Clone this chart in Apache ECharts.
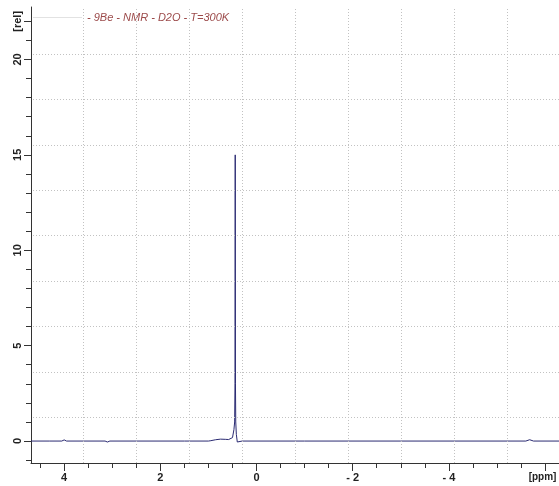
<!DOCTYPE html>
<html>
<head>
<meta charset="utf-8">
<script src="https://cdn.jsdelivr.net/npm/echarts@6/dist/echarts.min.js"></script>
<style>
html,body{margin:0;padding:0;background:#fff;}
#c{width:559px;height:486px;}
</style>
</head>
<body>
<div id="c"></div>
<script>
// ---- data ----
var seriesName = '- 9Be - NMR - D2O - T=300K';
var ppm = [4.69, 4.30, 4.05, 4.00, 3.95, 3.60, 3.15, 3.10, 3.05, 2.50, 1.50, 1.00, 0.95, 0.85, 0.75, 0.65, 0.58, 0.55, 0.50, 0.47, 0.455, 0.448, 0.443, 0.438, 0.432, 0.42, 0.40, 0.37, 0.30, -1.0, -3.0, -5.60, -5.68, -5.76, -6.29];
var intensity = [0, 0, 0, 0.06, 0, 0, 0, -0.05, 0, 0, 0, 0, 0.02, 0.07, 0.10, 0.09, 0.08, 0.08, 0.18, 0.6, 1.0, 3.0, 15.0, 3.0, 1.0, 0.35, -0.05, 0, 0, 0, 0, 0, 0.07, 0, 0];
var xMajorTicks = [4, 2, 0, -2, -4, -6];
var xMinorTicks = [4.5, 4, 3.5, 3, 2.5, 2, 1.5, 1, 0.5, 0, -0.5, -1, -1.5, -2, -2.5, -3, -3.5, -4, -4.5, -5, -5.5, -6];
var yMajorTicks = [0, 5, 10, 15, 20, 22];
var yMinorTicks = [-1, 0, 1, 2, 3, 4, 5, 6, 7, 8, 9, 10, 11, 12, 13, 14, 15, 16, 17, 18, 19, 20, 21, 22];
var gridX = [3.61, 2.51, 1.40, 0.30, -0.80, -1.90, -3.00, -4.11, -5.21];
var gridY = [1.25, 3.63, 6.01, 8.39, 10.77, 13.15, 15.53, 17.91, 20.29];

var X_MIN = -6.29, X_MAX = 4.69, Y_MIN = -1.15, Y_MAX = 22.75;

var points = ppm.map(function (p, i) { return [p, intensity[i]]; });

function xFmt(v) {
  if (v === -6) return '{u|[ppm]}';
  if (v < 0) return '- ' + Math.abs(v);
  return String(v);
}
function yFmt(v) {
  if (v === 22) return '[rel]';
  return String(v);
}

var FONT = 'Liberation Sans, Arial, sans-serif';
var lblFont = { fontFamily: FONT, fontWeight: 'bold', fontSize: 11, color: '#222' };

var chart = echarts.init(document.getElementById('c'), null, { renderer: 'canvas' });
chart.setOption({
  animation: false,
  backgroundColor: '#ffffff',
  grid: { left: 31, right: 0, top: 7, bottom: 23, containLabel: false, outerBoundsMode: 'none' },
  legend: {
    left: 33, top: 12, padding: 0,
    icon: 'rect', itemWidth: 49, itemHeight: 1, itemGap: 5,
    itemStyle: { color: '#e2e2e2' },
    textStyle: { fontFamily: FONT, fontStyle: 'italic', fontSize: 11, color: '#9c4b4b' },
    data: [seriesName]
  },
  xAxis: [
    {
      type: 'value', inverse: true, min: X_MIN, max: X_MAX, position: 'bottom',
      axisLine: { show: true, onZero: false, lineStyle: { color: '#333', width: 1 } },
      axisTick: { show: true, length: 8, customValues: xMajorTicks, lineStyle: { color: '#333' } },
      axisLabel: Object.assign({
        show: true, margin: 9, customValues: xMajorTicks, formatter: xFmt,
        rich: { u: { fontFamily: FONT, fontWeight: 'bold', fontSize: 10, color: '#222', padding: [0, 5, 0, 0] } }
      }, lblFont),
      splitLine: { show: false }
    },
    {
      type: 'value', inverse: true, min: X_MIN, max: X_MAX, position: 'bottom',
      axisLine: { show: false, onZero: false },
      axisTick: { show: true, length: 5, customValues: xMinorTicks, lineStyle: { color: '#333' } },
      axisLabel: { show: false },
      splitLine: { show: false }
    }
  ],
  yAxis: [
    {
      type: 'value', min: Y_MIN, max: Y_MAX, position: 'left',
      axisLine: { show: true, onZero: false, lineStyle: { color: '#333', width: 1 } },
      axisTick: { show: true, length: 7, customValues: yMajorTicks, lineStyle: { color: '#333' } },
      axisLabel: Object.assign({ show: true, rotate: 90, margin: 8, customValues: yMajorTicks, formatter: yFmt }, lblFont),
      splitLine: { show: false }
    },
    {
      type: 'value', min: Y_MIN, max: Y_MAX, position: 'left',
      axisLine: { show: false, onZero: false },
      axisTick: { show: true, length: 5, customValues: yMinorTicks, lineStyle: { color: '#333' } },
      axisLabel: { show: false },
      splitLine: { show: false }
    }
  ],
  series: [
    {
      name: seriesName,
      type: 'line',
      xAxisIndex: 0, yAxisIndex: 0,
      data: points,
      showSymbol: false,
      symbol: 'none',
      lineStyle: { color: '#2a2a72', width: 1 },
      itemStyle: { color: '#2a2a72' },
      z: 3,
      markLine: {
        silent: true,
        symbol: 'none',
        label: { show: false },
        animation: false,
        lineStyle: { type: [1, 2], color: '#c2c2c2', width: 1 },
        emphasis: { disabled: true },
        data: gridY.map(function (v) { return { yAxis: v }; }).concat(gridX.map(function (v) { return { xAxis: v }; }))
      }
    }
  ]
});
</script>
</body>
</html>
